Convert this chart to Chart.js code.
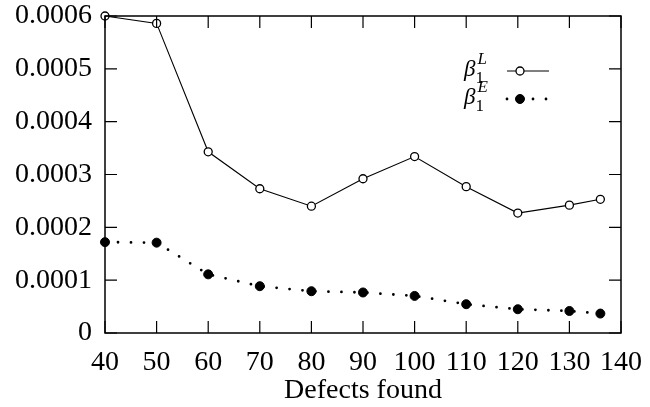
<!DOCTYPE html>
<html lang="en">
<head>
    <meta charset="UTF-8">
    <title>Defects found</title>
    <script src="https://cdn.jsdelivr.net/npm/chart.js"></script>
    <style>
        body {
            margin: 0;
            background: #fff;
        }
        .wrap {
            width: 650px;
            height: 407px;
        }
    </style>
</head>
<body>
    <div class="wrap">
        <canvas id="betaChart" width="650" height="407"></canvas>
    </div>
    <script>
        // values
        const defects = [40, 50, 60, 70, 80, 90, 100, 110, 120, 130, 136];
        const betaL = [0.000600, 0.000586, 0.000343, 0.000273, 0.000240, 0.000292, 0.000334, 0.000277, 0.000227, 0.000242, 0.000253];
        const betaE = [0.000172, 0.000171, 0.000111, 0.0000886, 0.0000791, 0.0000767, 0.0000702, 0.0000545, 0.0000450, 0.0000417, 0.0000368];
        const xTicks = [40, 50, 60, 70, 80, 90, 100, 110, 120, 130, 140];
        const yTicks = [0, 0.0001, 0.0002, 0.0003, 0.0004, 0.0005, 0.0006];

        const FONT = '"Liberation Serif", "DejaVu Serif", serif';
        Chart.defaults.font.family = FONT;
        Chart.defaults.font.size = 28;
        Chart.defaults.color = '#000';

        // box + inward ticks on all four sides (like the gnuplot original)
        const frameTicks = {
            id: 'frameTicks',
            afterDatasetsDraw(chart) {
                const { ctx, chartArea: a, scales } = chart;
                const len = 12;
                ctx.save();
                ctx.strokeStyle = '#000';
                ctx.lineWidth = 1.5;
                ctx.strokeRect(a.left, a.top, a.right - a.left, a.bottom - a.top);
                ctx.lineWidth = 1.2;
                ctx.beginPath();
                xTicks.forEach(v => {
                    const px = scales.x.getPixelForValue(v);
                    ctx.moveTo(px, a.bottom); ctx.lineTo(px, a.bottom - len);
                    ctx.moveTo(px, a.top); ctx.lineTo(px, a.top + len);
                });
                yTicks.forEach(v => {
                    const py = scales.y.getPixelForValue(v);
                    ctx.moveTo(a.left, py); ctx.lineTo(a.left + len, py);
                    ctx.moveTo(a.right, py); ctx.lineTo(a.right - len, py);
                });
                ctx.stroke();
                ctx.restore();
            }
        };

        // legend: beta_1^L / beta_1^E with the sample on the right
        const mathLegend = {
            id: 'mathLegend',
            afterDraw(chart) {
                const ctx = chart.ctx;
                const rows = [
                    { sup: 'L', y: 71, ds: chart.data.datasets[0] },
                    { sup: 'E', y: 99, ds: chart.data.datasets[1] }
                ];
                ctx.save();
                ctx.fillStyle = '#000';
                ctx.textBaseline = 'alphabetic';
                rows.forEach(r => {
                    const x0 = 464;
                    ctx.font = 'italic 23px ' + FONT;
                    ctx.fillText('\u03B2', x0, r.y + 5);
                    const bw = ctx.measureText('\u03B2').width;
                    ctx.font = '17px ' + FONT;
                    ctx.fillText('1', x0 + bw, r.y + 12);
                    ctx.font = 'italic 17px ' + FONT;
                    ctx.fillText(r.sup, x0 + bw + 2, r.y - 7);

                    // sample
                    ctx.strokeStyle = '#000';
                    ctx.lineWidth = r.ds.borderWidth;
                    ctx.lineCap = r.ds.borderCapStyle || 'butt';
                    ctx.setLineDash(r.ds.borderDash || []);
                    ctx.beginPath();
                    ctx.moveTo(507, r.y);
                    ctx.lineTo(549, r.y);
                    ctx.stroke();
                    ctx.setLineDash([]);
                    ctx.beginPath();
                    ctx.arc(520, r.y, r.ds.pointRadius, 0, Math.PI * 2);
                    ctx.fillStyle = r.ds.pointBackgroundColor;
                    ctx.fill();
                    ctx.lineWidth = r.ds.pointBorderWidth;
                    ctx.stroke();
                    ctx.fillStyle = '#000';
                });
                ctx.restore();
            }
        };

        const ctx = document.getElementById('betaChart').getContext('2d');
        new Chart(ctx, {
            type: 'line',
            data: {
                datasets: [{
                    label: 'beta1 L',
                    data: defects.map((d, i) => ({ x: d, y: betaL[i] })),
                    borderColor: '#000',
                    borderWidth: 1.1,
                    pointStyle: 'circle',
                    pointRadius: 4,
                    pointBackgroundColor: '#fff',
                    pointBorderColor: '#000',
                    pointBorderWidth: 1.3,
                    tension: 0,
                    clip: false
                }, {
                    label: 'beta1 E',
                    data: defects.map((d, i) => ({ x: d, y: betaE[i] })),
                    borderColor: '#000',
                    borderWidth: 2.8,
                    borderDash: [0, 13],
                    borderCapStyle: 'round',
                    pointStyle: 'circle',
                    pointRadius: 4.5,
                    pointBackgroundColor: '#000',
                    pointBorderColor: '#000',
                    pointBorderWidth: 1,
                    tension: 0,
                    clip: false
                }]
            },
            options: {
                responsive: false,
                animation: false,
                events: [],
                layout: {
                    padding: { left: 0, right: 29, top: 16, bottom: 0 }
                },
                plugins: {
                    legend: { display: false },
                    tooltip: { enabled: false }
                },
                scales: {
                    x: {
                        type: 'linear',
                        min: 40,
                        max: 140,
                        afterBuildTicks: s => { s.ticks = xTicks.map(v => ({ value: v })); },
                        afterFit: s => { s.height = 74; s.paddingLeft = 0; s.paddingRight = 0; },
                        grid: { display: false, drawTicks: false },
                        border: { display: false },
                        ticks: { padding: 13, maxRotation: 0 },
                        title: {
                            display: true,
                            text: 'Defects found',
                            font: { size: 28 },
                            padding: { top: 0, bottom: 0 }
                        }
                    },
                    y: {
                        min: 0,
                        max: 0.0006,
                        afterBuildTicks: s => { s.ticks = yTicks.map(v => ({ value: v })); },
                        afterFit: s => { s.width = 105; s.paddingTop = 0; s.paddingBottom = 0; },
                        grid: { display: false, drawTicks: false },
                        border: { display: false },
                        ticks: {
                            padding: 13,
                            callback: v => v === 0 ? '0' : v.toFixed(4)
                        }
                    }
                }
            },
            plugins: [frameTicks, mathLegend]
        });
    </script>
</body>
</html>
